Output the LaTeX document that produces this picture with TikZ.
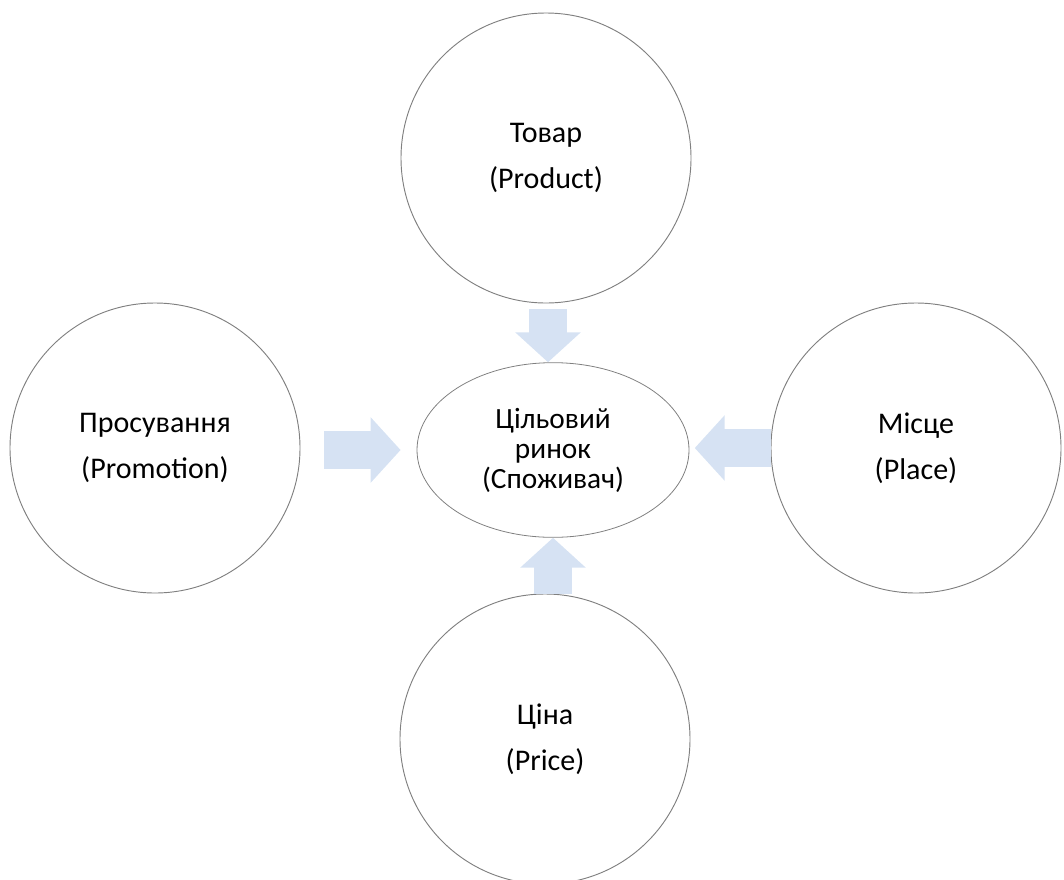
\documentclass[tikz,border=0pt]{standalone}
\usepackage{fontspec}
\setmainfont{Carlito}
\usetikzlibrary{arrows.meta, shapes.geometric}

\definecolor{arrowblue}{RGB}{214,226,243}
\definecolor{rimgray}{RGB}{128,128,128}

\begin{document}
\begin{tikzpicture}[
  x=0.75pt, y=-0.75pt,
  mixcircle/.style={circle, draw=rimgray, line width=0.7pt, minimum size=217.5pt, inner sep=0pt, align=center, font=\fontsize{22.5}{34.5}\selectfont},
  target/.style={ellipse, draw=rimgray, line width=0.6pt, minimum width=204pt, minimum height=131pt, inner sep=0pt, align=center, font=\fontsize{22}{22.5}\selectfont},
  blockarr/.style={draw=arrowblue, line width=28.5pt, -{Triangle[width=48pt, length=22.5pt]}}
]
  \useasboundingbox (0,0) rectangle (1064,879);

  % the four elements of the mix round the target market
  \node[target] (mkt) at (553,450) {Цільовий\\ринок\\(Споживач)};
  \node[mixcircle] (product) at (546,158) {Товар\\(Product)};
  \node[mixcircle] (promo) at (155,448) {Просування\\(Promotion)};
  \node[mixcircle] (place) at (916,448) {Місце\\(Place)};
  \node[mixcircle] (price) at (545,739) {Ціна\\(Price)};

  % block arrows
  \draw[blockarr, shorten <=4pt] ([xshift=1.5pt]product.south) -- ([xshift=1.5pt]product.south |- mkt.north);
  \draw[blockarr, shorten <=18pt, shorten >=12pt] ([yshift=-1.5pt]promo.east) -- ([yshift=-1.5pt]promo.east -| mkt.west);
  \draw[blockarr, shorten >=4pt] (place.west) -- (place.west -| mkt.east);
  \draw[blockarr] ([xshift=6pt]price.north) -- ([xshift=6pt]price.north |- mkt.south);
\end{tikzpicture}
\end{document}
